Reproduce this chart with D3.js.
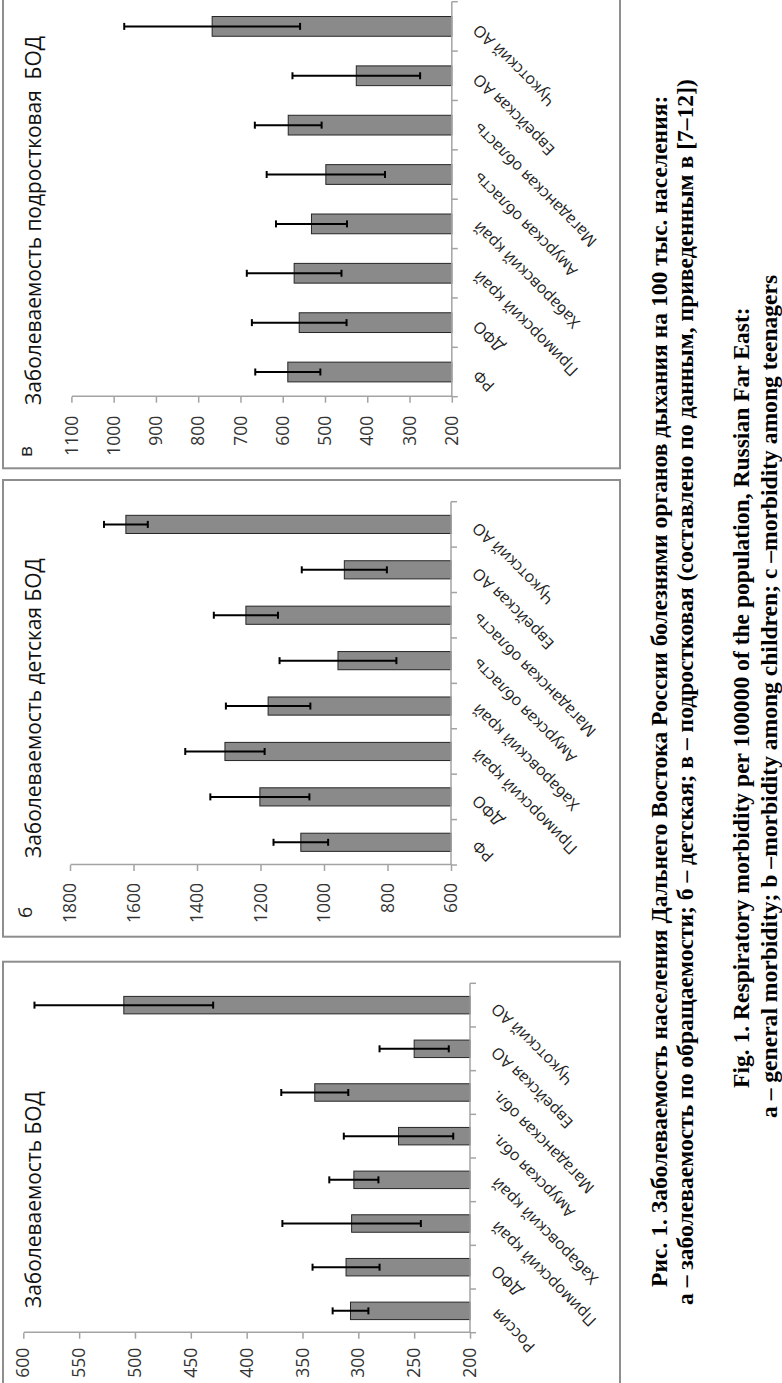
<!DOCTYPE html>
<html><head><meta charset="utf-8">
<script src="https://cdn.jsdelivr.net/npm/d3@7"></script>
<style>body{margin:0;background:#fff} svg{display:block}</style>
</head><body>
<svg id="fig" width="782" height="1383"></svg>
<script>
// ---------- DATA ----------
const categoriesA = ["Россия","ДФО","Приморский край","Хабаровский край","Амурская обл.","Магаданская обл.","Еврейская АО","Чукотский АО"];
const valuesA = [307, 311, 306, 304, 264, 339, 250, 510];
const errorsA = [16, 30, 62, 22, 49, 30, 31, 80];
const ticksA = [200, 250, 300, 350, 400, 450, 500, 550, 600];

const categoriesB = ["РФ","ДФО","Приморский край","Хабаровский край","Амурская область","Магаданская область","Еврейская АО","Чукотский АО"];
const valuesB = [1073, 1202, 1312, 1176, 956, 1246, 936, 1624];
const errorsB = [86, 156, 125, 133, 184, 101, 134, 69];
const ticksB = [600, 800, 1000, 1200, 1400, 1600, 1800];

const categoriesC = ["РФ","ДФО","Приморский край","Хабаровский край","Амурская область","Магаданская область","Еврейская АО","Чукотский АО"];
const valuesC = [588, 561, 573, 532, 498, 587, 426, 767];
const errorsC = [77, 112, 112, 84, 140, 79, 151, 208];
const ticksC = [200, 300, 400, 500, 600, 700, 800, 900, 1000, 1100];

const titles = ["Заболеваемость БОД", "Заболеваемость детская БОД", "Заболеваемость подростковая  БОД"];
const letters = [null, "б", "в"];
const captionLines = [
  "Рис. 1. Заболеваемость населения Дальнего Востока России болезнями органов дыхания на 100 тыс. населения:",
  "а – заболеваемость по обращаемости; б – детская; в – подростковая (составлено по данным, приведенным в [7–12])",
  "Fig. 1. Respiratory morbidity per 100000 of the population, Russian Far East:",
  "a – general morbidity; b –morbidity among children; c –morbidity among teenagers"
];

// ---------- LAYOUT (unrotated frame: 1383 wide x 782 tall) ----------
const W = 782, H = 1383;
const svg = d3.select("#fig");
const root = svg.append("g").attr("transform", `translate(0,${H}) rotate(-90)`);

const FONT = "'Open Sans', 'Noto Sans', sans-serif";
const panels = [
  {cats: categoriesA, vals: valuesA, errs: errorsA, ticks: ticksA, domain: [200, 600],
   box: [-35, 421.3], x0: 50.3, x1: 399.7, y0: 470, y1: 23.3, titleX: 75, letterX: null, tickPad: 9},
  {cats: categoriesB, vals: valuesB, errs: errorsB, ticks: ticksB, domain: [600, 1800],
   box: [446.3, 903], x0: 518, x1: 881.3, y0: 451, y1: 70, titleX: 525, letterX: 465, tickPad: 12},
  {cats: categoriesC, vals: valuesC, errs: errorsC, ticks: ticksC, domain: [200, 1100],
   box: [914.7, 1400], x0: 986.3, x1: 1381.3, y0: 451.8, y1: 71.4, titleX: 978, letterX: 926, tickPad: 13}
];

// title font size from measured target length of panel б title
const probe = root.append("text").attr("font-family", FONT).attr("font-size", 20).text(titles[1]);
const titleFS = 20 * 300 / probe.node().getComputedTextLength();
probe.remove();

panels.forEach((p, k) => {
  const g = root.append("g");
  g.append("rect")
    .attr("x", p.box[0]).attr("y", 3)
    .attr("width", p.box[1] - p.box[0]).attr("height", 617)
    .attr("fill", "none").attr("stroke", "#8e8e8e").attr("stroke-width", 2);

  const x = d3.scaleBand().domain(p.cats).range([p.x0, p.x1]).paddingInner(0.6).paddingOuter(0.3);
  const y = d3.scaleLinear().domain(p.domain).range([p.y0, p.y1]);

  // bars
  g.selectAll("rect.bar").data(p.vals).join("rect").attr("class", "bar")
    .attr("x", (d, i) => x(p.cats[i]))
    .attr("y", d => y(d))
    .attr("width", x.bandwidth())
    .attr("height", d => y(p.domain[0]) - y(d))
    .attr("fill", "#8a8a8a").attr("stroke", "#262626").attr("stroke-width", 1);

  // value axis
  const ay = g.append("g").attr("transform", `translate(${p.x0},0)`)
    .call(d3.axisLeft(y).tickValues(p.ticks).tickSize(6).tickSizeOuter(0)
      .tickPadding(p.tickPad).tickFormat(d3.format("d")));
  ay.attr("font-family", FONT).attr("font-size", 17.5);
  ay.select(".domain").attr("stroke", "#a3a3a3").attr("stroke-width", 1.5);
  ay.selectAll(".tick line").attr("stroke", "#a3a3a3").attr("stroke-width", 1.5);
  ay.selectAll(".tick text").attr("fill", "#333");

  // category axis
  g.append("line").attr("x1", p.x0).attr("x2", p.x1).attr("y1", y(p.domain[0])).attr("y2", y(p.domain[0]))
    .attr("stroke", "#a3a3a3").attr("stroke-width", 1.5);
  const bounds = p.cats.map(c => x(c) - x.step() * x.paddingInner() / 2).concat([p.x1]);
  g.selectAll("line.ct").data(bounds).join("line").attr("class", "ct")
    .attr("x1", d => d).attr("x2", d => d)
    .attr("y1", y(p.domain[0])).attr("y2", y(p.domain[0]) + 6)
    .attr("stroke", "#a3a3a3").attr("stroke-width", 1.5);
  g.selectAll("text.cl").data(p.cats).join("text").attr("class", "cl")
    .attr("transform", d => `translate(${x(d) + x.bandwidth() / 2 + 3},${y(p.domain[0]) + 28}) rotate(-45)`)
    .attr("text-anchor", "end")
    .attr("font-family", FONT).attr("font-size", 16).attr("fill", "#222")
    .text(d => d);

  // error bars
  const eb = g.selectAll("g.eb").data(p.vals).join("g").attr("class", "eb")
    .attr("stroke", "#000").attr("stroke-width", 2);
  eb.append("line")
    .attr("x1", (d, i) => x(p.cats[i]) + x.bandwidth() / 2)
    .attr("x2", (d, i) => x(p.cats[i]) + x.bandwidth() / 2)
    .attr("y1", (d, i) => y(d - p.errs[i]))
    .attr("y2", (d, i) => y(d + p.errs[i]));
  [-1, 1].forEach(s => {
    eb.append("line")
      .attr("x1", (d, i) => x(p.cats[i]) + x.bandwidth() / 2 - 3.5)
      .attr("x2", (d, i) => x(p.cats[i]) + x.bandwidth() / 2 + 3.5)
      .attr("y1", (d, i) => y(d + s * p.errs[i]))
      .attr("y2", (d, i) => y(d + s * p.errs[i]));
  });

  // title & letter
  g.append("text").attr("x", p.titleX).attr("y", 41)
    .attr("font-family", FONT).attr("font-size", titleFS).attr("fill", "#111")
    .style("white-space", "pre").text(titles[k]);
  if (letters[k]) {
    g.append("text").attr("x", p.letterX).attr("y", 32)
      .attr("font-family", FONT).attr("font-size", 19).attr("fill", "#222").text(letters[k]);
  }
});

// caption
const CAPFONT = "'Liberation Serif', 'Times New Roman', serif";
const cap = root.append("g").attr("font-family", CAPFONT).attr("font-weight", "bold")
  .attr("text-anchor", "start").attr("fill", "#000");
const probe2 = cap.append("text").attr("font-size", 20).text(captionLines[0]);
const capFS = 20 * 1192 / probe2.node().getComputedTextLength();
probe2.remove();
const capX = [96, 78, 295, 265];
const capY = [667, 693, 749, 777];
cap.selectAll("text").data(captionLines).join("text")
  .attr("x", (d, i) => capX[i]).attr("y", (d, i) => capY[i])
  .attr("font-size", capFS).text(d => d);
</script>
</body></html>
